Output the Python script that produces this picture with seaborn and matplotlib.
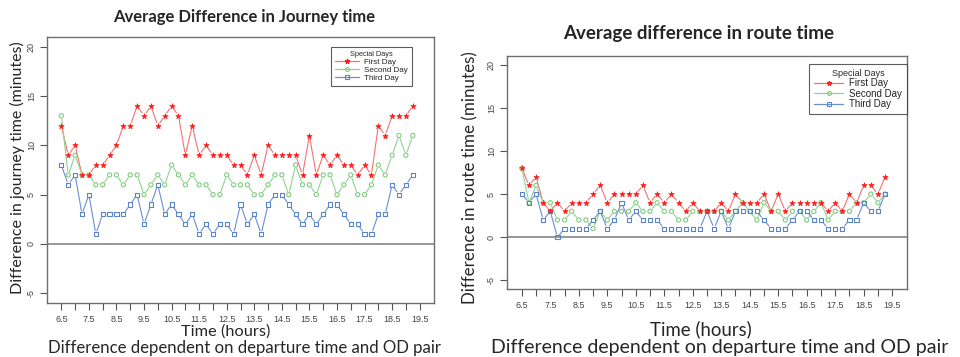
import numpy as np
import pandas as pd
import matplotlib.pyplot as plt
import seaborn as sns
from matplotlib.lines import Line2D

# departure times (hours), one point every quarter hour
hours = [6.5, 6.75, 7.0, 7.25, 7.5, 7.75, 8.0, 8.25, 8.5, 8.75, 9.0, 9.25, 9.5,
         9.75, 10.0, 10.25, 10.5, 10.75, 11.0, 11.25, 11.5, 11.75, 12.0, 12.25,
         12.5, 12.75, 13.0, 13.25, 13.5, 13.75, 14.0, 14.25, 14.5, 14.75, 15.0,
         15.25, 15.5, 15.75, 16.0, 16.25, 16.5, 16.75, 17.0, 17.25, 17.5, 17.75,
         18.0, 18.25, 18.5, 18.75, 19.0, 19.25]

journey_first = [12, 9, 10, 7, 7, 8, 8, 9, 10, 12, 12, 14, 13, 14, 12, 13, 14, 13, 9, 12,
                 9, 10, 9, 9, 9, 8, 8, 7, 9, 7, 10, 9, 9, 9, 9, 7, 11, 7, 9, 8, 9, 8,
                 8, 7, 8, 7, 12, 11, 13, 13, 13, 14]
journey_second = [13, 7, 9, 7, 7, 6, 6, 7, 7, 6, 7, 7, 5, 6, 7, 6, 8, 7, 6, 7, 6, 6, 5, 5,
                  7, 6, 6, 6, 5, 5, 6, 7, 7, 5, 8, 6, 6, 5, 7, 7, 5, 6, 7, 5, 5, 6, 8, 7,
                  9, 11, 9, 11]
journey_third = [8, 6, 7, 3, 5, 1, 3, 3, 3, 3, 4, 5, 2, 4, 6, 3, 4, 3, 2, 3, 1, 2, 1, 2, 2,
                 1, 4, 2, 3, 1, 4, 5, 5, 4, 3, 2, 3, 2, 3, 4, 4, 3, 2, 2, 1, 1, 3, 3, 6,
                 5, 6, 7]

route_first = [8, 6, 7, 4, 3, 4, 3, 4, 4, 4, 5, 6, 4, 5, 5, 5, 5, 6, 4, 5, 4, 5, 4, 3, 4, 3,
               3, 3, 4, 3, 5, 4, 4, 4, 5, 3, 5, 3, 4, 4, 4, 4, 4, 3, 4, 3, 5, 4, 6, 6,
               5, 7]
route_second = [8, 4, 6, 4, 4, 2, 2, 3, 2, 2, 1, 3, 2, 3, 3, 3, 4, 3, 3, 4, 3, 3, 2, 2, 3, 3,
                3, 3, 3, 2, 3, 4, 3, 2, 4, 3, 3, 2, 3, 3, 2, 3, 4, 2, 3, 3, 3, 4, 4, 5,
                4, 5]
route_third = [5, 4, 5, 2, 3, 0, 1, 1, 1, 1, 2, 3, 1, 2, 4, 2, 3, 2, 2, 2, 1, 1, 1, 1, 1, 1,
               3, 1, 3, 1, 3, 3, 3, 3, 2, 1, 1, 1, 2, 3, 3, 2, 2, 1, 1, 1, 2, 2, 4, 3,
               3, 5]

day_names = ['First Day', 'Second Day', 'Third Day']
x_ticks = [6.5, 7.0, 7.5, 8.0, 8.5, 9.0, 9.5, 10.0, 10.5, 11.0, 11.5, 12.0, 12.5, 13.0,
           13.5, 14.0, 14.5, 15.0, 15.5, 16.0, 16.5, 17.0, 17.5, 18.0, 18.5, 19.0, 19.5]
y_ticks = [-5, 0, 5, 10, 15, 20]

line_colors = {'First Day': '#f27272', 'Second Day': '#8fd38f', 'Third Day': '#6b8fd0'}
point_colors = {'First Day': '#ff1a1a', 'Second Day': '#7fcc7f', 'Third Day': '#5a83c8'}
markers = {'First Day': '*', 'Second Day': 'o', 'Third Day': 's'}

sns.set_theme(style='white')
plt.rcParams['font.family'] = ['Liberation Sans', 'DejaVu Sans']

W, H = 960, 357
fig = plt.figure(figsize=(W / 100, H / 100), dpi=100)


def frac_box(x0, y0, x1, y1):
    return [x0 / W, 1 - y1 / H, (x1 - x0) / W, (y1 - y0) / H]


def gapped_lines(ax, x, y, color, gap=3.4):
    # R style type="b": segments stop short of the points
    pts = ax.transData.transform(np.column_stack([x, y]))
    out = []
    for p, q in zip(pts[:-1], pts[1:]):
        d = q - p
        L = np.hypot(*d)
        if L <= 2 * gap + 0.5:
            continue
        out += [p + d * gap / L, q - d * gap / L, [np.nan, np.nan]]
    if not out:
        return
    seg = ax.transData.inverted().transform(np.array(out, dtype=float))
    ax.plot(seg[:, 0], seg[:, 1], color=color, lw=0.8, zorder=2)


def panel(ax, series, legend_anchor, legend_size):
    ax.set_xlim(5.98, 20.02)
    ax.set_ylim(-6, 21)
    df = pd.DataFrame({'hour': hours * 3,
                       'value': sum(series, []),
                       'day': np.repeat(day_names, len(hours))})
    for name in day_names:
        gapped_lines(ax, hours, df.loc[df.day == name, 'value'].values, line_colors[name])
    for name in ['Second Day', 'Third Day', 'First Day']:
        sub = df[df.day == name]
        if name == 'First Day':
            sns.scatterplot(data=sub, x='hour', y='value', marker='*', s=16,
                            color=point_colors[name], edgecolor=point_colors[name],
                            linewidth=0.5, ax=ax, zorder=4)
        else:
            sns.scatterplot(data=sub, x='hour', y='value', marker=markers[name], s=9,
                            facecolor='none', edgecolor=point_colors[name],
                            linewidth=0.8, ax=ax, zorder=3)
    ax.axhline(0, color='#7a7a7a', lw=1.1, zorder=1)

    ax.set_xticks(x_ticks)
    ax.set_xticklabels([f'{t:g}' if (t - 6.5) % 1 == 0 else '' for t in x_ticks])
    ax.set_yticks(y_ticks)
    ax.set_yticklabels([str(v) for v in y_ticks], rotation=90, va='center')
    ax.tick_params(axis='both', direction='out', length=5, width=0.8, color='#555555',
                   labelcolor='#444444', labelsize=6.5, bottom=True, left=True)
    ax.tick_params(axis='x', pad=3.5)
    ax.tick_params(axis='y', pad=3)
    ax.set_xlabel('')
    ax.set_ylabel('')
    for sp in ax.spines.values():
        sp.set_color('#6e6e6e')
        sp.set_linewidth(1.0)

    handles = [Line2D([], [], color=line_colors[n], lw=0.9, marker=markers[n],
                      markersize=3.5 if n == 'First Day' else 2.8,
                      markerfacecolor=point_colors[n] if n == 'First Day' else 'none',
                      markeredgecolor=point_colors[n], markeredgewidth=0.8)
               for n in day_names]
    leg = ax.legend(handles, day_names, title='Special Days', loc='upper right',
                    bbox_to_anchor=legend_anchor, fontsize=legend_size,
                    title_fontsize=legend_size - 0.5, frameon=True, fancybox=False,
                    handlelength=3.0, handletextpad=0.6, borderpad=0.5,
                    labelspacing=0.05, borderaxespad=0)
    leg.get_frame().set_edgecolor('#333333')
    leg.get_frame().set_linewidth(0.8)
    for t in leg.get_texts():
        t.set_color('#222222')


ax1 = fig.add_axes(frac_box(47, 37, 434, 303))
panel(ax1, [journey_first, journey_second, journey_third], (0.943, 0.962), 5.8)

ax2 = fig.add_axes(frac_box(507, 56, 907, 289))
panel(ax2, [route_first, route_second, route_third], (1.0, 0.966), 7.0)

label_font = ['Lato', 'DejaVu Sans']

fig.text(244 / W, 1 - 17 / H, 'Average Difference in Journey time', ha='center',
         va='center', fontsize=12, fontweight='bold', family=label_font)
fig.text(699 / W, 1 - 33 / H, 'Average difference in route time', ha='center',
         va='center', fontsize=13.5, fontweight='bold', family=label_font)

fig.text(226 / W, 1 - 332 / H, 'Time (hours)', ha='center', va='center',
         fontsize=11.8, family=label_font)
fig.text(245 / W, 1 - 348 / H, 'Difference dependent on departure time and OD pair',
         ha='center', va='center', fontsize=12.1, family=label_font)
fig.text(701 / W, 1 - 329 / H, 'Time (hours)', ha='center', va='center',
         fontsize=13.4, family=label_font)
fig.text(720 / W, 1 - 347 / H, 'Difference dependent on departure time and OD pair',
         ha='center', va='center', fontsize=14.0, family=label_font)

fig.text(17 / W, 1 - 168 / H, 'Difference in journey time (minutes)', ha='center',
         va='center', rotation=90, fontsize=11.5, family=label_font)
fig.text(470 / W, 1 - 178 / H, 'Difference in route time (minutes)', ha='center',
         va='center', rotation=90, fontsize=12.2, family=label_font)

fig.savefig('out.png', dpi=100)
